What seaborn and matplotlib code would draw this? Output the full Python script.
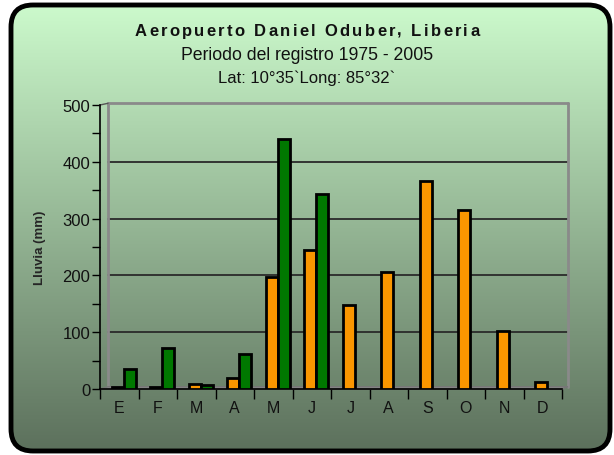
import numpy as np
import pandas as pd
import seaborn as sns
import matplotlib.pyplot as plt
from matplotlib.patches import FancyBboxPatch, Polygon
from matplotlib.font_manager import FontProperties
import matplotlib.transforms as mtransforms

# data (mm of rain per month)
meses = ["E", "F", "M", "A", "M", "J", "J", "A", "S", "O", "N", "D"]
serie_naranja = [3, 4, 8, 19, 198, 245, 148, 206, 366, 316, 102, 13]
serie_verde = [36, 72, 7, 61, 441, 344, np.nan, np.nan, np.nan, np.nan, np.nan, np.nan]

titulo = "Aeropuerto Daniel Oduber, Liberia"
subtitulo = "Periodo del registro 1975 - 2005"
coords = "Lat: 10°35`Long: 85°32`"

sns.set_theme(style="white")
plt.rcParams["font.family"] = ["Liberation Sans", "DejaVu Sans"]

W, H = 614, 456
fig = plt.figure(figsize=(W / 100, H / 100), dpi=100)
fig.patch.set_facecolor("white")

# background: rounded box with vertical green gradient
bg = fig.add_axes([0, 0, 1, 1])
bg.set_xlim(0, W)
bg.set_ylim(H, 0)
bg.axis("off")
top = np.array([204, 250, 204]) / 255
bot = np.array([92, 112, 92]) / 255
t = np.linspace(0, 1, 256)[:, None]
grad = (top[None, :] * (1 - t) + bot[None, :] * t)[:, None, :]
img = bg.imshow(grad, extent=[10, 611, 453, 5], aspect="auto", zorder=0)
box = FancyBboxPatch((11, 6), 599, 446, boxstyle="round,pad=0,rounding_size=22",
                     fc="none", ec="black", lw=3.5, zorder=2)
bg.add_patch(box)
img.set_clip_path(box)

# main plot area
ax = fig.add_axes([100 / W, 1 - 390 / H, 462 / W, 284 / H])
ax.patch.set_alpha(0)

df = pd.DataFrame({
    "mes": list(range(12)) * 2,
    "serie": ["a"] * 12 + ["b"] * 12,
    "lluvia": serie_naranja + serie_verde,
}).dropna()

sns.barplot(data=df, x="mes", y="lluvia", hue="serie", hue_order=["a", "b"],
            palette=["#FA9600", "#007800"], saturation=1, width=0.62, gap=0,
            edgecolor="black", linewidth=2, legend=False, ax=ax, zorder=3,
            native_scale=True)

# bars sit a bit to the right of the month label (3d depth offset)
shift = 0.12
ax.set_xlim(-0.5 - shift, 11.5 - shift)
ax.set_ylim(0, 500)

# pseudo-3d back wall and grid
blend = mtransforms.blended_transform_factory(ax.transAxes, ax.transData)
xl, xr = 8 / 462, 468 / 462
for v in [100, 200, 300, 400]:
    ax.plot([xl, xr], [v, v], transform=blend, color="#2a2a2a", lw=1.3,
            zorder=1, clip_on=False)
ax.plot([xl, xr], [503, 503], transform=blend, color="#8a8a8a", lw=2, clip_on=False, zorder=1)
ax.plot([xl, xl], [3, 503], transform=blend, color="#8a8a8a", lw=2, clip_on=False, zorder=1)
ax.plot([xr, xr], [3, 503], transform=blend, color="#8a8a8a", lw=2, clip_on=False, zorder=1)
ax.plot([0, xl], [500, 503], transform=blend, color="#555555", lw=1, clip_on=False, zorder=1)
floor = Polygon([[0, 0], [1, 0], [xr, 4], [xl, 4]], closed=True, transform=blend,
                fc="#8c8c8c", ec="#777777", lw=1, clip_on=False, zorder=2)
ax.add_patch(floor)

# axes styling
for s in ["top", "right"]:
    ax.spines[s].set_visible(False)
for s in ["left", "bottom"]:
    ax.spines[s].set_color("black")
    ax.spines[s].set_linewidth(1.2)
ax.set_yticks(range(0, 501, 100))
ax.set_yticks(range(50, 500, 100), minor=True)
ax.set_xticks(np.arange(12) - shift)
ax.set_xticklabels(meses)
ax.set_xticks(np.arange(13) - 0.5 - shift, minor=True)
ax.tick_params(axis="y", which="both", direction="out", length=6, width=1,
               color="black", left=True, labelsize=12, pad=1, labelcolor="#111111")
ax.tick_params(axis="x", which="major", length=0, labelsize=11.5, pad=8, labelcolor="#111111")
ax.tick_params(axis="x", which="minor", direction="out", length=7, width=1,
               color="black", bottom=True)
ax.set_xlabel("")
ax.set_ylabel("Lluvia (mm)", fontsize=9.5, fontweight="bold", labelpad=12)

# title, letter-spaced like the original
fp = FontProperties(family="Liberation Sans", weight="bold", size=12)
renderer = fig.canvas.get_renderer()
anchos = [renderer.get_text_width_height_descent(c, fp, ismath=False)[0] for c in titulo]
espacio = 2.3
total = sum(anchos) + espacio * (len(titulo) - 1)
x = 307 - total / 2
for c, w in zip(titulo, anchos):
    bg.text(x, 36, c, ha="left", va="baseline", fontproperties=fp, color="#111111")
    x += w + espacio

fig.text(0.5, 1 - 55 / H, subtitulo, ha="center", va="center", fontsize=12.7, color="#111111")
fig.text(0.5, 1 - 78 / H, coords, ha="center", va="center", fontsize=12, color="#111111")

fig.savefig("out.png", dpi=100)
